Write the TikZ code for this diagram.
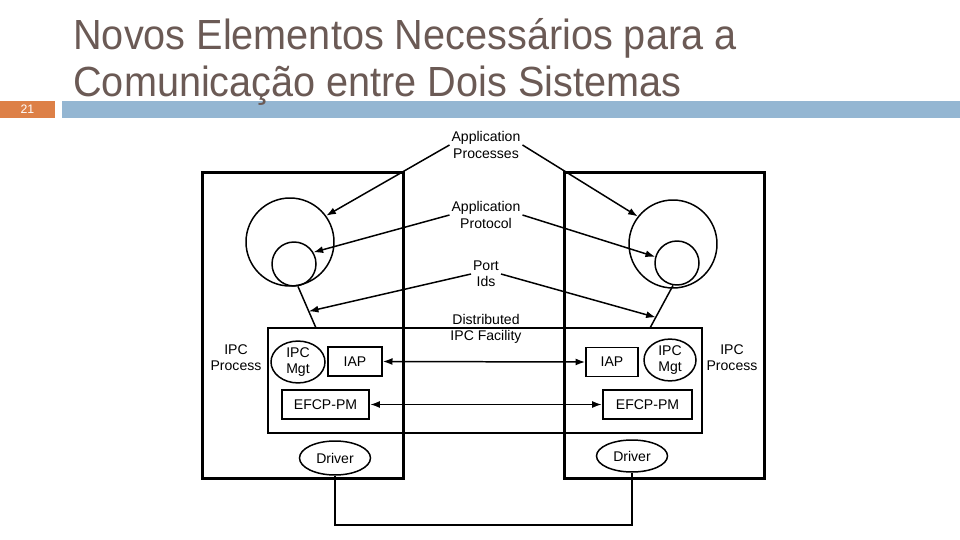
\documentclass[tikz,border=0pt]{standalone}
\usepackage{fontspec}
\setmainfont{Liberation Sans}
\newfontfamily\titlefont[FakeStretch=0.94]{Liberation Sans}
\usetikzlibrary{arrows.meta}
\usetikzlibrary{shapes.geometric}
\usetikzlibrary{positioning}
\definecolor{titlegray}{HTML}{6B5A55}
\definecolor{barblue}{HTML}{94B6D2}
\definecolor{barorange}{HTML}{DD8047}
\tikzset{arr/.style = {-{Latex[length=5.5pt,width=4pt]}, line width=0.85pt}}
\tikzset{dblarr/.style = {{Latex[length=5.5pt,width=4pt]}-{Latex[length=5.5pt,width=4pt]}, line width=0.85pt}}
\tikzset{lbl/.style = {font=\fontsize{8}{9.2}\selectfont, align=center, inner sep=1pt}}
\tikzset{hostbox/.style = {draw, line width=1.7pt, inner sep=0pt}}
\tikzset{difbox/.style = {draw, line width=0.85pt, inner sep=0pt, minimum width=8.68cm, minimum height=2.1cm}}
\tikzset{ring/.style = {draw, circle, line width=0.85pt, inner sep=0pt}}
\tikzset{oval/.style = {draw, ellipse, line width=0.85pt, inner sep=0pt, font=\fontsize{8}{9.6}\selectfont, align=center}}
\tikzset{mod/.style = {draw, line width=0.95pt, inner sep=0pt, font=\fontsize{8}{9.2}\selectfont, minimum height=0.58cm}}

\begin{document}
\begin{tikzpicture}[x=0.02cm, y=-0.02cm]
				\useasboundingbox (0,0) rectangle (960,540);
				% header
				\node[fill=barorange, inner sep=0pt, minimum width=1.1cm, minimum height=0.34cm,
				      text=white, font=\fontsize{7}{8}\selectfont] (num) at (27.5,109.5) {21};
				\fill[barblue] (62,101) rectangle (960,118);
				\node[anchor=base west, inner sep=0pt, text=titlegray, font=\titlefont\fontsize{24}{28}\selectfont] (title1) at (73,50) {Novos Elementos Necessários para a};
				\node[anchor=base west, inner sep=0pt, text=titlegray, font=\titlefont\fontsize{24}{28}\selectfont] (title2) at (73,97) {Comunicação entre Dois Sistemas};
				% systems
				\node[difbox] (dif) at (485,380.5) {};
				\node[hostbox, minimum width=4.04cm, minimum height=6.14cm] (lhost) at (303,325.5) {};
				\node[hostbox, minimum width=4.02cm, minimum height=6.14cm] (rhost) at (664.5,325.5) {};
				\node[ring, minimum size=1.76cm] (lbig) at (290,242) {};
				\node[ring, minimum size=0.88cm] (lsmall) at (294,264) {};
				\node[ring, minimum size=1.76cm] (rbig) at (673,244) {};
				\node[ring, minimum size=0.88cm] (rsmall) at (677,263) {};
				\coordinate (lfoot) at (316,328);
				\coordinate (rfoot) at (650,328);
				\draw[line width=0.85pt] (lsmall.-80) -- (lfoot) coordinate[pos=0.6] (lport);
				\draw[line width=0.85pt] (rsmall.-100) -- (rfoot) coordinate[pos=0.75] (rport);
				% labels
				\node[lbl] (apps) at (486,145) {Application\\Processes};
				\node[lbl] (aprot) at (486,215) {Application\\Protocol};
				\node[lbl] (port) at (486,274) {Port\\Ids};
				\node[lbl] (diflbl) at (486,329) {Distributed\\IPC Facility};
				\node[lbl] (lproc) at (236,358) {IPC\\Process};
				\node[lbl] (rproc) at (732,358) {IPC\\Process};
				\draw[arr] (apps.west) -- (lbig.36);
				\draw[arr] (apps.east) -- (rbig.142);
				\draw[arr] (aprot.west) -- (lsmall.31);
				\draw[arr] (aprot.east) -- (rsmall.164);
				\draw[arr] (port.west) -- (lport);
				\draw[arr] (port.east) -- (rport);
				% IPC processes
				\node[oval, minimum width=1.08cm, minimum height=0.76cm] (lmgt) at (298,362) {IPC\\Mgt};
				\node[oval, minimum width=1.04cm, minimum height=0.72cm] (rmgt) at (670,360) {IPC\\Mgt};
				\node[mod, minimum width=1.08cm] (liap) at (355,361.5) {IAP};
				\node[mod, minimum width=1.04cm] (riap) at (612,362) {IAP};
				\node[mod, line width=1.4pt, minimum width=1.74cm] (lefcp) at (325.5,404.5) {EFCP-PM};
				\node[mod, line width=1.4pt, minimum width=1.78cm] (refcp) at (647.5,404.5) {EFCP-PM};
				\draw[dblarr] (liap.east) -- (riap.west);
				\draw[dblarr] (lefcp.east) -- (refcp.west);
				\node[oval, minimum width=1.42cm, minimum height=0.68cm] (ldrv) at (335,458) {Driver};
				\node[oval, minimum width=1.42cm, minimum height=0.64cm] (rdrv) at (632,456) {Driver};
				\draw[line width=1.1pt] (ldrv.south) -- ++(0,49) -| (rdrv.south);
\end{tikzpicture}
\end{document}
